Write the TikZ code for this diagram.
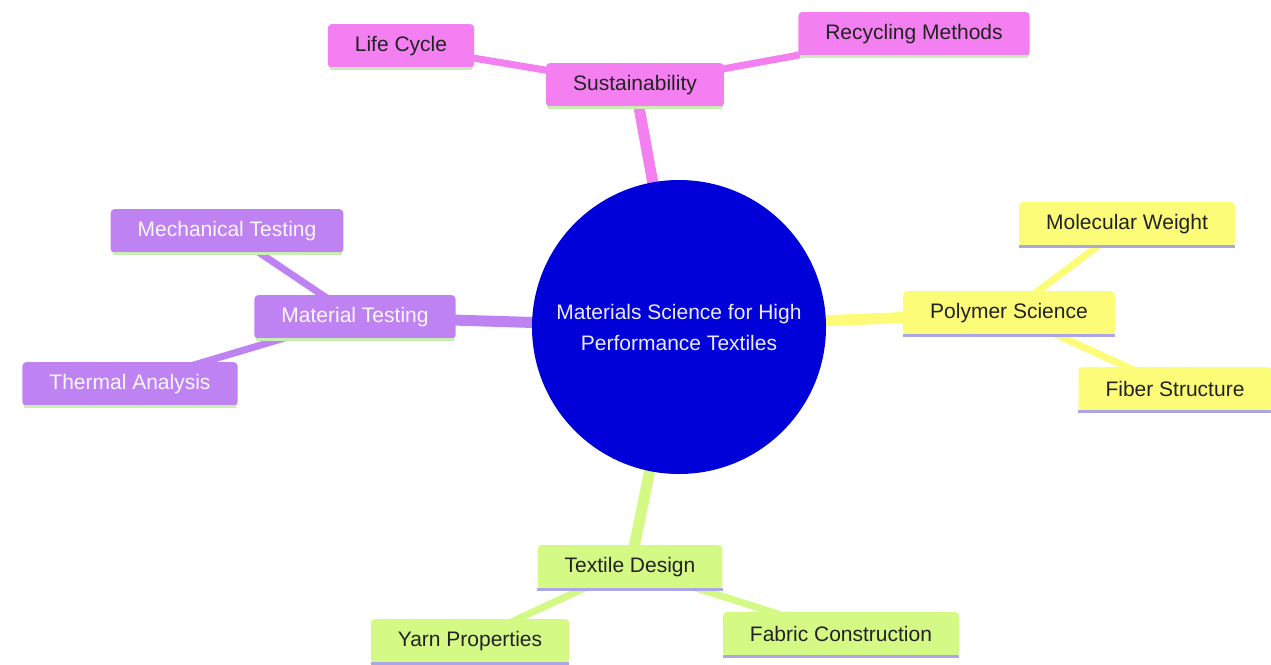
\documentclass[tikz,border=0pt]{standalone}
\usepackage{fontspec}
\setmainfont{Liberation Sans}
\pgfdeclarelayer{bg}
\pgfsetlayers{bg,main}
\definecolor{pinkc}{HTML}{F37FF0}
\definecolor{purpc}{HTML}{BF82F3}
\definecolor{yelc}{HTML}{FCFC78}
\definecolor{grnc}{HTML}{D5F985}
\definecolor{rootc}{HTML}{0000D9}
\definecolor{ulgreen}{HTML}{C9EEB4}
\definecolor{ullav}{HTML}{ABA6E6}
\definecolor{darktext}{HTML}{222222}
\tikzset{
  box/.style={rounded corners=4pt, minimum height=44pt, inner xsep=27pt, inner ysep=0pt,
    font=\fontsize{21}{25}\selectfont},
  pinkbox/.style={box, fill=pinkc, text=darktext},
  purpbox/.style={box, fill=purpc, text=white!94!purpc},
  yelbox/.style={box, fill=yelc, text=darktext},
  grnbox/.style={box, fill=grnc, text=darktext},
  rootedge/.style={line width=11pt},
  subedge/.style={line width=7pt},
  uline/.style={line width=3pt}
}
\begin{document}
\begin{tikzpicture}[x=1pt,y=-1pt]
\useasboundingbox (0,0) rectangle (1271,664);
\node[circle, fill=rootc, minimum size=294pt, inner sep=0pt, text=white!92!blue,
  align=center, font=\fontsize{21}{31}\selectfont] (root) at (679,327)
  {Materials Science for High\\Performance Textiles};
% level 1
\node[pinkbox] (sus) at (635,85) {Sustainability};
\node[purpbox] (mat) at (355,317) {Material Testing};
\node[yelbox] (pol) at (1009,313) {Polymer Science};
\node[grnbox] (tex) at (630,567) {Textile Design};
% level 2
\node[pinkbox] (life) at (401,46) {Life Cycle};
\node[pinkbox] (rec) at (914,34) {Recycling Methods};
\node[purpbox] (mech) at (227,231) {Mechanical Testing};
\node[purpbox] (therm) at (130,384) {Thermal Analysis};
\node[yelbox] (mol) at (1127,224) {Molecular Weight};
\node[yelbox] (fib) at (1175,389) {Fiber Structure};
\node[grnbox] (yarn) at (470,641) {Yarn Properties};
\node[grnbox] (fab) at (841,634) {Fabric Construction};
% underlines
\foreach \n in {sus,life,rec,mat,mech,therm}
  \draw[uline, ulgreen] ([xshift=2pt]\n.south west) -- ([xshift=-2pt]\n.south east);
\foreach \n in {pol,mol,fib,tex,yarn,fab}
  \draw[uline, ullav] ([xshift=0pt]\n.south west) -- ([xshift=0pt]\n.south east);
% edges
\begin{pgfonlayer}{bg}
\draw[rootedge, pinkc] (root.center) -- (sus.center);
\draw[rootedge, purpc] (root.center) -- (mat.center);
\draw[rootedge, yelc] (root.center) -- (pol.center);
\draw[rootedge, grnc] (root.center) -- (tex.center);
\draw[subedge, pinkc] (sus.center) -- (life.center);
\draw[subedge, pinkc] (sus.center) -- (rec.center);
\draw[subedge, purpc] (mat.center) -- (mech.center);
\draw[subedge, purpc] (mat.center) -- (therm.center);
\draw[subedge, yelc] (pol.center) -- (mol.center);
\draw[subedge, yelc] (pol.center) -- (fib.center);
\draw[subedge, grnc] (tex.center) -- (yarn.center);
\draw[subedge, grnc] (tex.center) -- (fab.center);
\end{pgfonlayer}
\end{tikzpicture}
\end{document}
